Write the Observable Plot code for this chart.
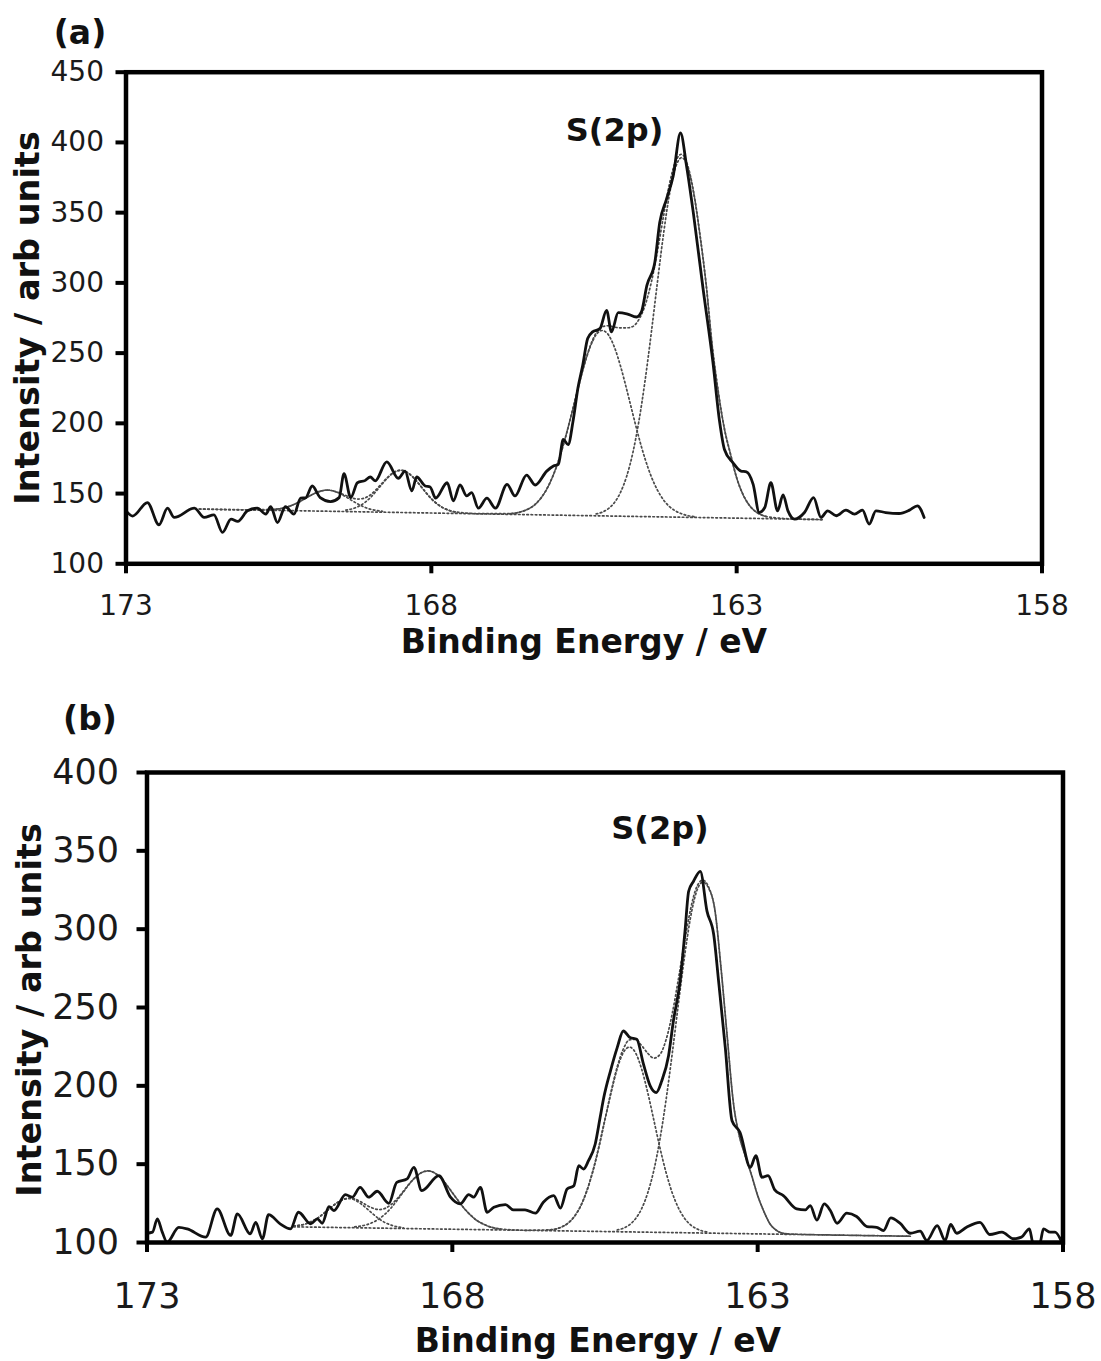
<!DOCTYPE html>
<html><head><meta charset="utf-8">
<script src="https://cdn.jsdelivr.net/npm/d3@7"></script>
<script src="https://cdn.jsdelivr.net/npm/@observablehq/plot@0.6"></script>
<style>
body{margin:0;background:#fff;font-family:"DejaVu Sans",Verdana,sans-serif;}
#wrap{position:relative;width:1101px;height:1361px;overflow:hidden;background:#fff;}
.panel{position:absolute;left:0;}
.lbl{position:absolute;font-weight:bold;color:#111;white-space:nowrap;line-height:1;transform:translate(-50%,-50%);}
.rot{transform:translate(-50%,-50%) rotate(-90deg);}
</style></head>
<body><div id="wrap">
<div id="pa" class="panel" style="top:0"></div>
<div id="pb" class="panel" style="top:700px"></div>
</div>
<script>
// ---------------- Data: shared ----------------
const xTicks = [173, 168, 163, 158];
const aYTicks = [100, 150, 200, 250, 300, 350, 400, 450];
const bYTicks = [100, 150, 200, 250, 300, 350, 400];
const peakLabel = "S(2p)";
const panelLabels = ["(a)", "(b)"];
const xTitle = "Binding Energy / eV";
const yTitle = "Intensity / arb units";

// ---------------- Data: panel (a) ----------------
const aSpecE = [173.0,172.89,172.65,172.46,172.32,172.21,171.88,171.72,171.56,171.42,171.28,171.17,171.01,170.85,170.71,170.63,170.52,170.39,170.25,170.14,170.06,169.95,169.82,169.65,169.51,169.43,169.32,169.21,169.08,169.0,168.92,168.73,168.54,168.43,168.32,168.24,168.10,168.02,167.93,167.74,167.64,167.53,167.42,167.34,167.23,167.09,166.95,166.76,166.63,166.44,166.30,166.11,166.0,165.92,165.84,165.76,165.68,165.60,165.52,165.44,165.36,165.24,165.13,165.05,164.94,164.80,164.64,164.56,164.47,164.34,164.26,164.15,164.04,163.92,163.82,163.71,163.55,163.39,163.28,163.20,163.06,162.93,162.84,162.73,162.63,162.54,162.44,162.33,162.24,162.16,162.05,161.89,161.74,161.62,161.51,161.37,161.21,161.07,160.94,160.83,160.72,160.56,160.34,160.17,160.04,159.93];
const aSpecI = [137.7,134,143.6,127.8,139.6,133,139.6,133,134.9,122.4,131.8,130.2,137.7,139.6,135.4,140.6,129.4,140.6,135.4,146.7,147,155.4,147.1,144.3,147.1,164.1,147.1,157.7,159.4,161.8,159,172.6,160.9,166,151.9,161.8,155.4,154.7,146.7,157.7,144.8,156.1,148.3,150.7,139.6,146.7,139.6,156.6,148.3,163.2,156.1,166,169.6,170.8,188.5,184.9,201.4,225,241.5,260.4,265.1,267.4,280.5,265.1,278.8,278,275.7,279.3,298.2,314.7,343,359.5,376,406.7,383.1,350,295.8,243.9,201.4,181.4,171.9,166,165.5,156.6,136.5,140.1,157.7,137.7,149,137.7,131.8,136.5,147.1,133,137.7,134.2,138.2,135.4,138.2,128.3,137.7,136.5,135.8,138.2,141.3,133];

const aBaseE = [171.8, 166.7, 161.6];
const aBaseI = [139.0, 135.2, 131.5];
const aC3E = [170.6,170.5,170.4,170.3,170.2,170.1,170.0,169.9,169.8,169.7,169.6,169.5,169.4,169.3,169.2,169.1,169.0,168.9,168.8];
const aC3I = [138.7,139.1,140.0,141.3,143.2,145.6,148.1,150.3,151.9,152.5,151.8,150.0,147.7,145.0,142.5,140.4,138.9,138.0,137.4];
const aC4E = [169.4,169.3,169.2,169.1,169.0,168.9,168.8,168.7,168.6,168.5,168.4,168.3,168.2,168.1,168.0,167.9,167.8,167.7,167.6];
const aC4I = [138.2,139.1,140.7,143.3,147.0,151.9,157.1,161.9,165.4,166.6,165.2,161.7,156.7,151.3,146.3,142.5,139.7,137.9,136.9];
const aC1E = [166.7,166.6,166.5,166.4,166.3,166.2,166.1,166.0,165.9,165.8,165.7,165.6,165.5,165.4,165.3,165.2,165.1,165.0,164.9,164.8,164.7,164.6,164.5,164.4,164.3,164.2,164.1,164.0,163.9,163.8,163.7];
const aC1I = [135.8,136.3,137.5,139.3,142.3,147.1,154.0,163.5,175.7,190.6,207.3,224.6,240.8,254.3,263.1,266.1,263.0,254.0,240.4,224.0,206.6,189.7,174.7,162.3,152.7,145.6,140.7,137.6,135.6,134.3,133.6];
const aC2E = [165.3,165.2,165.1,165.0,164.9,164.8,164.7,164.6,164.5,164.4,164.3,164.2,164.1,164.0,163.9,163.8,163.7,163.6,163.5,163.4,163.3,163.2,163.1,163.0,162.9,162.8,162.7,162.6,162.5];
const aC2I = [135.5,136.8,139.3,143.7,151.1,162.5,179.1,201.8,230.4,263.8,299.6,334.1,363.2,382.3,389.2,382.1,362.9,333.7,299.0,255,222,196,177.9,161.2,149.7,142.1,137.5,134.9,133.5];
const aEnvE = [171.8,171.0,170.6,170.4,170.2,170.0,169.9,169.8,169.7,169.6,169.5,169.4,169.3,169.2,169.1,169.0,168.9,168.8,168.7,168.6,168.5,168.4,168.3,168.2,168.1,168.0,167.9,167.8,167.7,167.6,167.2,166.7,166.5,166.4,166.3,166.2,166.1,166.0,165.9,165.8,165.7,165.6,165.5,165.4,165.3,165.2,165.1,165.0,164.9,164.8,164.7,164.6,164.5,164.4,164.3,164.2,164.1,164.0,163.9,163.8,163.7,163.6,163.5,163.4,163.3,163.2,163.1,163.0,162.9,162.8,162.7,162.6,162.5,162.0,161.6];
const aEnvI = [139.0,138.4,138.7,140.0,143.2,148.1,150.3,151.9,152.5,151.8,150.4,148.6,146.9,146.1,146.7,149.0,153.0,157.7,162.2,165.4,166.6,165.2,161.7,156.7,151.3,146.3,142.5,139.7,137.9,136.9,135.7,135.8,137.5,139.3,142.3,147.1,154.0,163.5,175.7,190.6,207.3,224.6,241.1,254.9,264.4,268.8,269.5,268.5,268,268,269,274,284,300,322,347,370.6,386.6,391.6,383.3,363.5,334.0,299.0,255,222,196,177.9,161.2,149.7,142.1,137.5,134.9,133.5,131.8,131.5];

// ---------------- Data: panel (b) ----------------
const bSpecE = [173.0,172.91,172.83,172.75,172.67,172.48,172.34,172.04,171.85,171.63,171.52,171.31,171.22,171.11,171.01,170.82,170.65,170.52,170.32,170.21,170.13,170.02,169.94,169.75,169.64,169.51,169.37,169.23,169.04,168.91,168.74,168.63,168.50,168.22,168.03,167.87,167.73,167.65,167.54,167.43,167.32,167.13,167.0,166.81,166.64,166.51,166.34,166.23,166.12,166.01,165.93,165.85,165.77,165.66,165.58,165.52,165.41,165.30,165.20,165.09,164.98,164.87,164.76,164.66,164.57,164.46,164.38,164.27,164.19,164.13,164.05,163.94,163.83,163.72,163.64,163.53,163.42,163.29,163.12,163.03,162.93,162.83,162.72,162.58,162.36,162.22,162.14,162.03,161.91,161.81,161.70,161.54,161.38,161.21,161.05,160.94,160.82,160.67,160.50,160.34,160.23,160.06,159.93,159.84,159.74,159.58,159.36,159.20,159.00,158.81,158.68,158.55,158.49,158.38,158.32,158.21,158.13,158.02];
const bSpecI = [105.9,106.6,115.1,106.6,100.2,109.7,108.7,103.4,121.5,104.5,118.3,105.5,112.9,102.4,117.8,111.9,108.7,119.3,111.9,115.1,112.3,122.9,120.4,130.6,128.9,135.2,128.9,132.7,125,138.4,140.6,148,133.1,142.7,128.9,124.6,130.6,128.9,135.2,119.3,122.5,124.2,120.8,120.8,118.7,125.7,129.9,122,134.2,136.3,149,146.9,152.2,162.9,179.8,192.5,209.6,224.4,235,230.8,229.7,213.8,200,195.7,203.2,219.1,241.4,266.9,298.7,324.2,330.6,336.9,311.5,296.6,266.9,224.4,177.7,170.3,148,155.4,141.6,142.7,133.6,129.9,121.5,120.8,123.6,114.3,124.6,120.4,112.3,118.7,116.6,110.2,109.7,107.6,115.7,112.3,105.9,107.2,101.3,110.8,101.3,111.5,105.9,109.7,112.9,105.1,106.6,102.4,103.4,108.7,99.6,99.6,108.7,106.6,106.6,100.2];

const bBaseE = [170.6, 165.5, 160.5];
const bBaseI = [110.0, 107.0, 104.0];
const bC3E = [170.6,170.5,170.4,170.3,170.2,170.1,170.0,169.9,169.8,169.7,169.6,169.5,169.4,169.3,169.2,169.1,169.0,168.9,168.8];
const bC3I = [110.6,111.0,111.9,113.5,115.7,118.7,122.0,125.0,127.3,128.0,127.2,124.8,121.6,118.2,115.1,112.7,111.1,110.0,109.4];
const bC4E = [169.6,169.5,169.4,169.3,169.2,169.1,169.0,168.9,168.8,168.7,168.6,168.5,168.4,168.3,168.2,168.1,168.0,167.9,167.8,167.7,167.6,167.5,167.4,167.3,167.2];
const bC4I = [110.0,110.5,111.4,112.9,115.1,118.2,122.2,127.1,132.3,137.5,141.8,144.7,145.7,144.6,141.6,137.1,131.8,126.5,121.5,117.4,114.1,111.9,110.2,109.2,108.6];
const bC1E = [166.4,166.3,166.2,166.1,166.0,165.9,165.8,165.7,165.6,165.5,165.4,165.3,165.2,165.1,165.0,164.9,164.8,164.7,164.6,164.5,164.4,164.3,164.2,164.1,164.0,163.9,163.8];
const bC1I = [108.1,108.7,110.1,112.5,116.7,123.2,132.7,145.4,161.0,178.6,196.0,211.0,221.2,224.7,221.1,210.7,195.7,178.1,160.4,144.7,131.8,122.3,115.6,111.3,108.8,107.3,106.6];
const bC2E = [165.3,165.2,165.1,165.0,164.9,164.8,164.7,164.6,164.5,164.4,164.3,164.2,164.1,164.0,163.9,163.8,163.7,163.6,163.5,163.4,163.3,163.2,163.1,163.0,162.9,162.8,162.7,162.6,162.5];
const bC2I = [108.0,109.1,111.3,115.2,121.6,131.7,146.1,166.0,191.1,220.3,251.7,281.8,307.3,324.1,330.0,326,312,275,232,190,168,155,143,130,120,112,108,106,105.5];
const bEnvE = [170.6,170.5,170.4,170.3,170.2,170.1,170.0,169.9,169.8,169.7,169.6,169.5,169.4,169.3,169.2,169.1,169.0,168.9,168.8,168.7,168.6,168.5,168.4,168.3,168.2,168.1,168.0,167.9,167.8,167.7,167.6,167.5,167.4,167.3,167.2,166.8,166.4,166.2,166.1,166.0,165.9,165.8,165.7,165.6,165.5,165.4,165.3,165.2,165.1,165.0,164.9,164.8,164.7,164.6,164.5,164.4,164.3,164.2,164.1,164.0,163.9,163.8,163.7,163.6,163.5,163.4,163.3,163.2,163.1,163.0,162.9,162.8,162.7,162.6,162.5,161.5,160.5];
const bEnvI = [110.6,111.0,111.9,113.5,115.7,118.7,122.0,125.0,127.3,128.3,127.8,126.0,123.7,121.9,121.0,121.8,124.3,128.1,132.8,137.7,141.8,144.7,145.7,144.6,141.6,137.1,131.8,126.5,121.5,117.4,114.1,111.9,110.2,109.2,108.6,107.8,108.1,110.1,112.5,116.7,123.2,132.7,145.4,161.0,178.6,196.0,212.1,223.5,229.3,229.6,225.7,220.8,217.7,220.0,229.4,245.8,267.7,291.2,312.5,326.8,331.3,326.6,312.2,275.3,232,190,168,155,143,130,120,112,108,106,105.5,104.6,104.0];

// ---------------- helpers ----------------
const pts = (E, I) => E.map((e, i) => ({e, v: I[i]}));

function panel(cfg) {
  const dotted = {x: "e", y: "v", stroke: "#4a4a4a", strokeWidth: 1.7, strokeDasharray: "1.6,2.6", curve: "monotone-x", clip: true};
  const marks = cfg.curves.map(c => Plot.line(pts(c[0], c[1]), dotted));
  marks.push(Plot.line(pts(cfg.specE, cfg.specI), {x: "e", y: "v", stroke: "#111", strokeWidth: 2.8, strokeLinejoin: "round", curve: "monotone-x", clip: true}));
  marks.push(Plot.text(cfg.note, {x: "e", y: "v", text: "t", fontSize: cfg.noteSize, fontWeight: "bold", fill: "#111"}));
  marks.push(Plot.frame({stroke: "#000", strokeWidth: 4.5}));
  marks.push(Plot.axisY(cfg.yTicks, {tickSize: 10, tickPadding: cfg.padY, strokeWidth: 4, stroke: "#000", tickFormat: d => String(d), label: null, fontSize: cfg.tickSize, fill: "#1a1a1a"}));
  marks.push(Plot.axisX(xTicks, {tickSize: 10, tickPadding: cfg.padX, strokeWidth: 4, stroke: "#000", tickFormat: d => String(d), label: null, fontSize: cfg.tickSize, fill: "#1a1a1a"}));
  return Plot.plot({
    width: 1101, height: cfg.height,
    marginTop: cfg.mt, marginRight: cfg.mr, marginBottom: cfg.mb, marginLeft: cfg.ml,
    x: {domain: [173, 158]},
    y: {domain: cfg.yDomain},
    style: {fontFamily: "'DejaVu Sans', Verdana, sans-serif", background: "white", color: "#1a1a1a", overflow: "visible"},
    marks
  });
}

function label(text, cx, cy, size, rot) {
  const d = document.createElement("div");
  d.className = "lbl" + (rot ? " rot" : "");
  d.textContent = text;
  d.style.left = cx + "px";
  d.style.top = cy + "px";
  d.style.fontSize = size + "px";
  document.getElementById("wrap").appendChild(d);
}

// ---------------- panel (a) ----------------
document.getElementById("pa").appendChild(panel({
  height: 690, mt: 71.7, mr: 59.5, mb: 126.7, ml: 125.5,
  yDomain: [100, 450], yTicks: aYTicks, tickSize: 28, padY: 12, padX: 21,
  specE: aSpecE, specI: aSpecI,
  curves: [[aBaseE, aBaseI], [aC3E, aC3I], [aC4E, aC4I], [aC1E, aC1I], [aC2E, aC2I], [aEnvE, aEnvI]],
  note: [{e: 165.0, v: 408, t: peakLabel}], noteSize: 32
}));

// ---------------- panel (b) ----------------
document.getElementById("pb").appendChild(panel({
  height: 661, mt: 72, mr: 38.5, mb: 119, ml: 146.5,
  yDomain: [100, 400], yTicks: bYTicks, tickSize: 35, padY: 18, padX: 31,
  specE: bSpecE, specI: bSpecI,
  curves: [[bBaseE, bBaseI], [bC3E, bC3I], [bC4E, bC4I], [bC1E, bC1I], [bC2E, bC2I], [bEnvE, bEnvI]],
  note: [{e: 164.6, v: 364, t: peakLabel}], noteSize: 32
}));

label(panelLabels[0], 80, 32, 33);
label(xTitle, 584, 641, 33);
label(yTitle, 28, 318, 33.5, true);
label(panelLabels[1], 90, 718, 33);
label(xTitle, 598, 1340, 33);
label(yTitle, 30, 1010, 33.5, true);
</script>
</body></html>
